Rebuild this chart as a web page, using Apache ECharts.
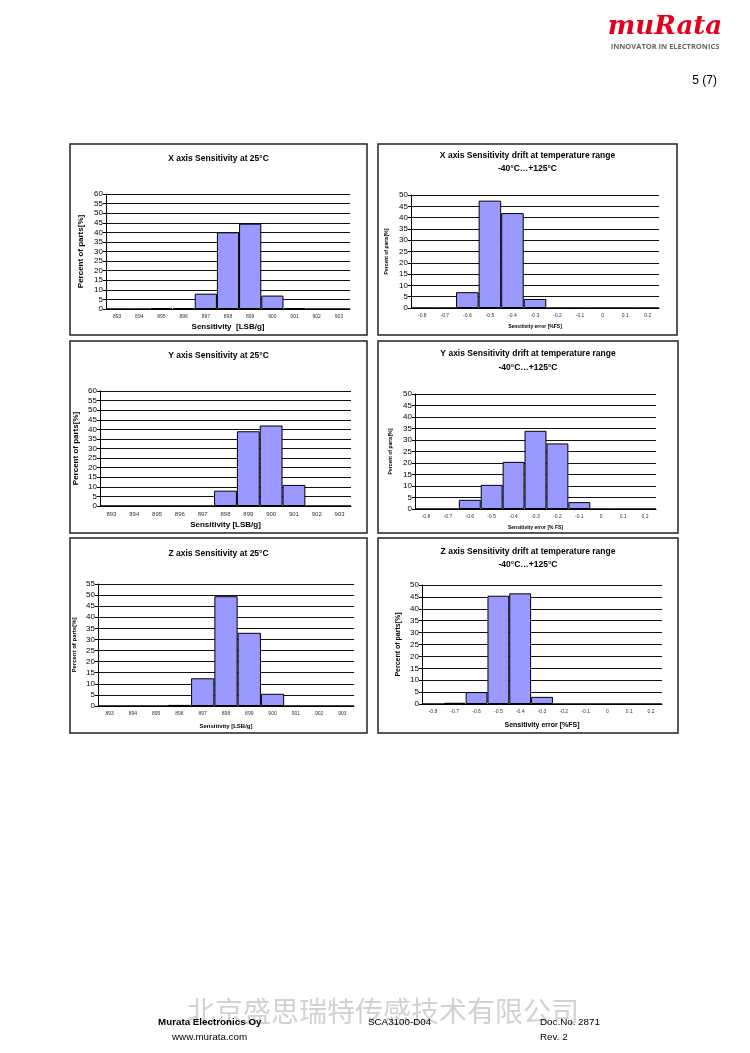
<!DOCTYPE html>
<html>
<head>
<meta charset="utf-8">
<title>SCA3100 sensitivity histograms</title>
<script src="https://cdn.jsdelivr.net/npm/echarts@6/dist/echarts.min.js"></script>
<style>
  html, body { margin: 0; padding: 0; background: #fff; }
  #page { width: 750px; height: 1053px; }
</style>
</head>
<body>
<div id="page"></div>
<script>
// category labels
var sensCats = ['893', '894', '895', '896', '897', '898', '899', '900', '901', '902', '903'];
var errCats = ['-0.8', '-0.7', '-0.6', '-0.5', '-0.4', '-0.3', '-0.2', '-0.1', '0', '0.1', '0.2'];

// percent of parts per bin
var xSens = [0, 0, 0.5, 0.5, 8, 40, 44.5, 7, 0.5, 0, 0];
var xDrift = [0, 0, 7, 47.5, 42, 4, 0, 0, 0, 0, 0];
var ySens = [0, 0, 0, 0, 0, 8, 39, 42, 11, 0, 0];
var yDrift = [0, 0, 4, 10.5, 20.5, 34, 28.5, 3, 0, 0, 0];
var zSens = [0, 0, 0, 0.5, 12.5, 49.5, 33, 5.5, 0, 0, 0];
var zDrift = [0, 0.5, 5, 45.5, 46.5, 3, 0, 0, 0, 0, 0];

var FONT = "'Liberation Sans', Arial, sans-serif";
var rangeLine = '-40°C…+125°C';

var panels = [
  { box: [70, 144, 297, 191], title: ['X axis Sensitivity at 25°C'], titleY: [159],
    cats: sensCats, data: xSens, yMax: 60,
    grid: { left: 106, top: 194, width: 244, height: 115 },
    xName: 'Sensitivity  [LSB/g]', xNameSize: 8, xNameGap: 14, xLabelSize: 5,
    yNameSize: 8, yNameGap: 21, yLabelSize: 8 },
  { box: [378, 144, 299, 191], title: ['X axis Sensitivity drift at temperature range', rangeLine], titleY: [156, 169],
    cats: errCats, data: xDrift, yMax: 50,
    grid: { left: 411, top: 195, width: 248, height: 113 },
    xName: 'Sensitivity error [%FS]', xNameSize: 5, xNameGap: 16, xLabelSize: 5,
    yNameSize: 5, yNameGap: 22, yLabelSize: 8 },
  { box: [70, 341, 297, 192], title: ['Y axis Sensitivity at 25°C'], titleY: [356],
    cats: sensCats, data: ySens, yMax: 60,
    grid: { left: 100, top: 391, width: 251, height: 115 },
    xName: 'Sensitivity [LSB/g]', xNameSize: 8, xNameGap: 15, xLabelSize: 6,
    yNameSize: 8, yNameGap: 20, yLabelSize: 8 },
  { box: [378, 341, 300, 192], title: ['Y axis Sensitivity drift at temperature range', rangeLine], titleY: [354, 368],
    cats: errCats, data: yDrift, yMax: 50,
    grid: { left: 415, top: 394, width: 241, height: 115 },
    xName: 'Sensitivity error [% FS]', xNameSize: 5, xNameGap: 16, xLabelSize: 5,
    yNameSize: 5, yNameGap: 22, yLabelSize: 8 },
  { box: [70, 538, 297, 195], title: ['Z axis Sensitivity at 25°C'], titleY: [554],
    cats: sensCats, data: zSens, yMax: 55,
    grid: { left: 98, top: 584, width: 256, height: 122 },
    xName: 'Sensitivity [LSB/g]', xNameSize: 6, xNameGap: 17, xLabelSize: 5,
    yNameSize: 6, yNameGap: 21, yLabelSize: 8 },
  { box: [378, 538, 300, 195], title: ['Z axis Sensitivity drift at temperature range', rangeLine], titleY: [552, 565],
    cats: errCats, data: zDrift, yMax: 50,
    grid: { left: 422, top: 585, width: 240, height: 119 },
    xName: 'Sensitivity error [%FS]', xNameSize: 7, xNameGap: 18, xLabelSize: 5,
    yNameSize: 7, yNameGap: 20, yLabelSize: 8 }
];

var grids = [], xAxes = [], yAxes = [], series = [], graphics = [];

panels.forEach(function (p, i) {
  grids.push(p.grid);

  xAxes.push({
    type: 'category', gridIndex: i, data: p.cats,
    axisLine: { lineStyle: { color: '#000', width: 1 } },
    axisTick: { show: false },
    axisLabel: { fontSize: p.xLabelSize, color: '#333', fontFamily: FONT, margin: 5, interval: 0 },
    name: p.xName, nameLocation: 'middle', nameGap: p.xNameGap,
    nameTextStyle: { fontSize: p.xNameSize, fontWeight: 'bold', color: '#000', fontFamily: FONT }
  });

  yAxes.push({
    type: 'value', gridIndex: i, min: 0, max: p.yMax, interval: 5,
    axisLine: { show: true, lineStyle: { color: '#000', width: 1 } },
    axisTick: { show: true, length: 3, lineStyle: { color: '#000' } },
    axisLabel: { fontSize: p.yLabelSize, color: '#000', fontFamily: FONT, margin: 3 },
    splitLine: { show: true, lineStyle: { color: '#111', width: 1 } },
    name: 'Percent of parts[%]', nameLocation: 'middle', nameGap: p.yNameGap,
    nameTextStyle: { fontSize: p.yNameSize, fontWeight: 'bold', color: '#000', fontFamily: FONT }
  });

  series.push({
    type: 'bar', xAxisIndex: i, yAxisIndex: i, data: p.data,
    barCategoryGap: 0, silent: true, animation: false,
    itemStyle: { color: '#9999ff', borderColor: '#000', borderWidth: 1 }
  });

  // panel frame
  graphics.push({
    type: 'rect', silent: true,
    shape: { x: p.box[0], y: p.box[1], width: p.box[2], height: p.box[3] },
    style: { fill: 'none', stroke: '#222', lineWidth: 1.5 }
  });

  // chart title (one or two lines)
  p.title.forEach(function (line, k) {
    graphics.push({
      type: 'text', silent: true,
      x: p.box[0] + p.box[2] / 2, y: p.titleY[k],
      style: {
        text: line, fontSize: 8.5, fontWeight: 'bold', fontFamily: FONT, fill: '#000',
        textAlign: 'center', textVerticalAlign: 'middle'
      }
    });
  });
});

// header: logo and page number
graphics.push({
  type: 'text', silent: true, x: 665, y: 27,
  style: { text: 'muRata', fontSize: 26, fontWeight: 'bold', fontStyle: 'italic',
    fontFamily: "'DejaVu Serif', serif", fill: '#e2001a', textAlign: 'center', textVerticalAlign: 'middle' }
});
graphics.push({
  type: 'text', silent: true, x: 665, y: 47,
  style: { text: 'INNOVATOR IN ELECTRONICS', fontSize: 7.5, fontWeight: 'bold',
    fontFamily: "'Open Sans', sans-serif", fill: '#666', textAlign: 'center', textVerticalAlign: 'middle' }
});
graphics.push({
  type: 'text', silent: true, x: 717, y: 81,
  style: { text: '5 (7)', fontSize: 12, fontFamily: FONT, fill: '#000', textAlign: 'right', textVerticalAlign: 'middle' }
});

// footer
graphics.push({
  type: 'text', silent: true, x: 187, y: 1011, z: -1,
  style: { text: '北京盛思瑞特传感技术有限公司', fontSize: 28, fontFamily: "'Noto Sans CJK SC', sans-serif",
    fill: '#d2d2d2', textAlign: 'left', textVerticalAlign: 'middle' }
});
[
  { t: 'Murata Electronics Oy', x: 158, y: 1022, b: true },
  { t: 'www.murata.com', x: 172, y: 1037 },
  { t: 'SCA3100-D04', x: 368, y: 1022 },
  { t: 'Doc.No. 2871', x: 540, y: 1022 },
  { t: 'Rev. 2', x: 540, y: 1037 }
].forEach(function (f) {
  graphics.push({
    type: 'text', silent: true, x: f.x, y: f.y,
    style: { text: f.t, fontSize: 9.8, fontWeight: f.b ? 'bold' : 'normal', fontFamily: FONT,
      fill: '#000', textAlign: 'left', textVerticalAlign: 'middle' }
  });
});

var myChart = echarts.init(document.getElementById('page'));
myChart.setOption({
  backgroundColor: '#fff',
  animation: false,
  grid: grids,
  xAxis: xAxes,
  yAxis: yAxes,
  series: series,
  graphic: graphics
});

window.addEventListener('resize', function () {
  myChart.resize();
});
</script>
</body>
</html>
